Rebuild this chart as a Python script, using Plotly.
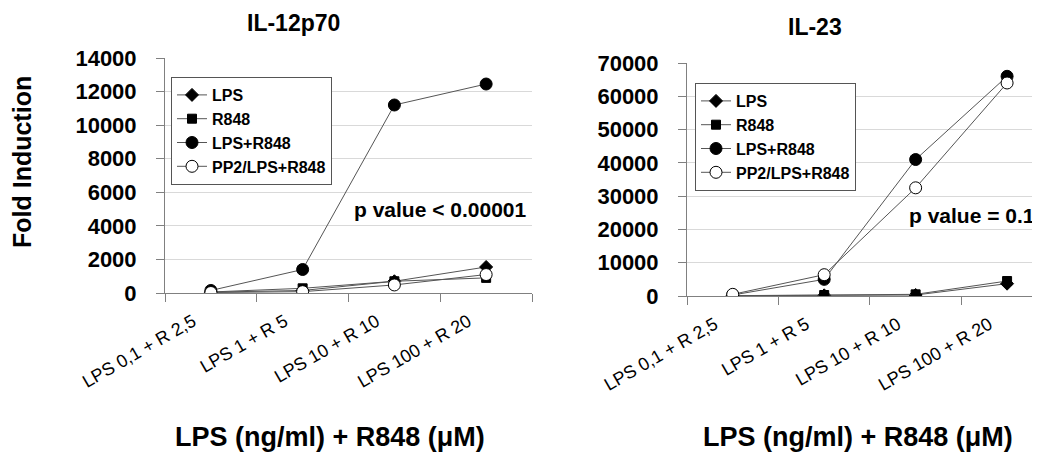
import plotly.graph_objects as go

categories = ["LPS 0,1 + R 2,5", "LPS 1 + R 5", "LPS 10 + R 10", "LPS 100 + R 20"]
series_names = ["LPS", "R848", "LPS+R848", "PP2/LPS+R848"]

il12_lps = [50, 150, 700, 1550]
il12_r848 = [60, 280, 700, 900]
il12_lps_r848 = [150, 1400, 11200, 12450]
il12_pp2 = [30, 80, 480, 1100]

il23_lps = [100, 200, 300, 3700]
il23_r848 = [100, 300, 500, 4500]
il23_lps_r848 = [300, 5000, 41000, 66000]
il23_pp2 = [500, 6400, 32500, 64000]

il12_ticks = [0, 2000, 4000, 6000, 8000, 10000, 12000, 14000]
il23_ticks = [0, 10000, 20000, 30000, 40000, 50000, 60000, 70000]

FONT = "Liberation Sans, Arial, sans-serif"
OFF = 8  # default page body margin
W, H = 1040 - OFF, 455 - OFF

styles = [
    dict(symbol="diamond", size=10, color="black", line=dict(color="black", width=1)),
    dict(symbol="square", size=9, color="black", line=dict(color="black", width=1)),
    dict(symbol="circle", size=12, color="black", line=dict(color="black", width=1)),
    dict(symbol="circle", size=12, color="white", line=dict(color="black", width=1)),
]

fig = go.Figure()

left_sets = [il12_lps, il12_r848, il12_lps_r848, il12_pp2]
right_sets = [il23_lps, il23_r848, il23_lps_r848, il23_pp2]

for name, vals, st in zip(series_names, left_sets, styles):
    fig.add_trace(go.Scatter(x=categories, y=vals, name=name, mode="lines+markers",
                             line=dict(color="#555555", width=1), marker=st,
                             xaxis="x", yaxis="y", legend="legend"))
for name, vals, st in zip(series_names, right_sets, styles):
    fig.add_trace(go.Scatter(x=categories, y=vals, name=name, mode="lines+markers",
                             line=dict(color="#555555", width=1), marker=st,
                             xaxis="x2", yaxis="y2", legend="legend2"))

def px_x(p):
    return (p - OFF) / W

def px_y(p):
    return 1 - (p - OFF) / H

axis_common = dict(showline=True, linecolor="#808080", linewidth=1,
                   ticks="outside", tickcolor="#808080", ticklen=8,
                   zeroline=False, automargin=False)

xcommon = dict(axis_common, type="category", tickson="boundaries", showgrid=False,
               tickangle=-30, tickfont=dict(family=FONT, size=18, color="black"),
               ticklabelstandoff=10, ticklabelshift=-18)
ycommon = dict(axis_common, showgrid=True, gridcolor="#d9d9d9", gridwidth=1,
               tickformat="d",
               tickfont=dict(family=FONT, size=22, color="black", weight="bold"),
               ticklabelstandoff=15)

fig.update_layout(
    width=W, height=H,
    margin=dict(l=0, r=0, t=0, b=0, autoexpand=False),
    paper_bgcolor="white", plot_bgcolor="white",
    showlegend=True,
    xaxis=dict(xcommon, domain=[px_x(165), px_x(532)], range=[-0.5, 3.5], anchor="y"),
    yaxis=dict(ycommon, domain=[px_y(293), px_y(58)], range=[0, 14000],
               tickvals=il12_ticks, anchor="x"),
    xaxis2=dict(xcommon, domain=[px_x(687), 1.0], range=[-0.5, 3.36], anchor="y2"),
    yaxis2=dict(ycommon, domain=[px_y(296), px_y(63)], range=[0, 70000],
                tickvals=il23_ticks, anchor="x2"),
    legend=dict(x=px_x(171), y=px_y(77), xanchor="left", yanchor="top",
                bordercolor="#555555", borderwidth=1, bgcolor="white",
                font=dict(family=FONT, size=16, color="black", weight="bold"),
                tracegroupgap=0, itemwidth=30),
    legend2=dict(x=px_x(695), y=px_y(83), xanchor="left", yanchor="top",
                 bordercolor="#555555", borderwidth=1, bgcolor="white",
                 font=dict(family=FONT, size=16, color="black", weight="bold"),
                 tracegroupgap=0, itemwidth=30),
)

def note(text, x, y, size, anchor="center", angle=0):
    return dict(text=text, x=px_x(x), y=px_y(y), xref="paper", yref="paper",
                xanchor=anchor, yanchor="middle", showarrow=False, textangle=angle,
                font=dict(family=FONT, size=size, color="black", weight="bold"))

ann = [
    note("IL-12p70", 293, 23, 23),
    note("IL-23", 815, 27, 23),
    note("Fold Induction", 22, 162, 25, angle=-90),
    note("LPS (ng/ml) + R848 (μM)", 330, 437, 27),
    note("LPS (ng/ml) + R848 (μM)", 858, 437, 27),
    note("p value < 0.00001", 352, 210, 21, anchor="left"),
    note("p value = 0.16", 907, 215, 21, anchor="left"),
]
fig.update_layout(annotations=ann)

fig.write_html("out.html")
